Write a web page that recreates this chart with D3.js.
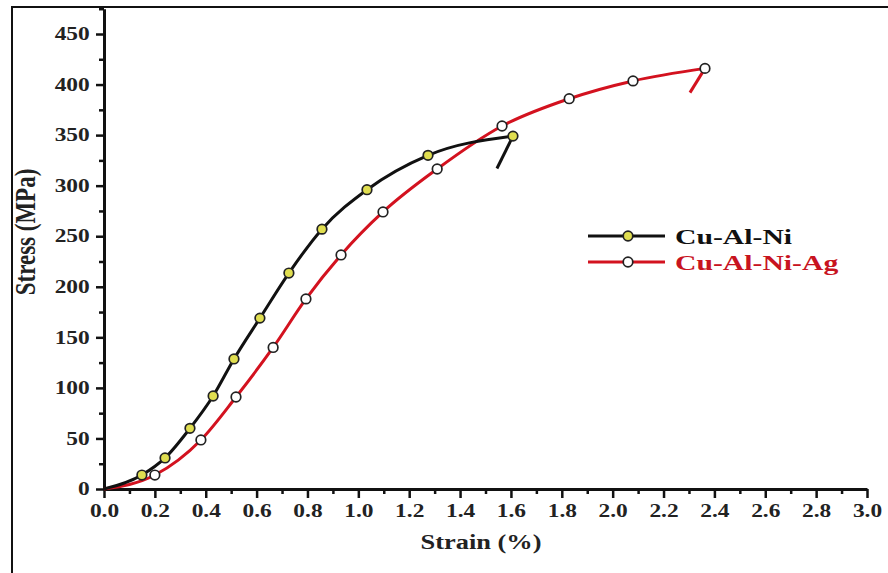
<!DOCTYPE html>
<meta charset="utf-8">
<style>
body { margin: 0; background: #fff; }
text { font-family: 'Liberation Serif', 'Times New Roman', serif; font-weight: bold; }
.axis text { font-size: 18px; fill: #222; }
.axis path, .axis line { stroke: #111; }
</style>
<body>
<svg width="888" height="573"></svg>
<script src="https://d3js.org/d3.v7.min.js"></script>
<script>

// Cu-Al-Ni (black, yellow markers) - first point is the origin (no marker)
var strainCuAlNi = [0, 0.149, 0.24, 0.338, 0.429, 0.511, 0.613, 0.727, 0.857, 1.034, 1.274, 1.608];
var stressCuAlNi = [0, 13.8, 30.7, 60, 92, 128.6, 169, 213.6, 257, 296, 330, 349];
var tailCuAlNi = [[1.608, 349], [1.545, 317]];

// Cu-Al-Ni-Ag (red, white markers)
var strainAg = [0, 0.2, 0.381, 0.519, 0.665, 0.794, 0.932, 1.097, 1.31, 1.565, 1.829, 2.08, 2.363];
var stressAg = [0, 13.8, 48.5, 91, 140, 188, 231.5, 274, 316.5, 359, 386, 403.6, 416];
var tailAg = [[2.363, 416], [2.304, 392]];

var seriesNames = ["Cu-Al-Ni", "Cu-Al-Ni-Ag"];
var yTicks = d3.range(0, 451, 50);
var xTicks = d3.range(0, 3.001, 0.2);

var svg = d3.select("svg");

// frame (top and left edge of the picture)
svg.append("path")
    .attr("d", "M12,573V7H888")
    .attr("fill", "none")
    .attr("stroke", "#111")
    .attr("stroke-width", 2);

var x = d3.scaleLinear().domain([0, 3]).range([104, 867]);
var y = d3.scaleLinear().domain([0, 475]).range([489, 489 - 475 * 455 / 450]);

// minor ticks
svg.append("g")
    .attr("class", "axis")
    .attr("transform", "translate(104,0)")
    .call(d3.axisLeft(y).tickValues(d3.range(25, 476, 50)).tickSize(5).tickFormat(""))
    .call(function(g) { g.select(".domain").remove(); })
    .selectAll("line").attr("stroke-width", 2.5);

svg.append("g")
    .attr("class", "axis")
    .attr("transform", "translate(0,489)")
    .call(d3.axisBottom(x).tickValues(d3.range(0.1, 3, 0.2)).tickSize(5).tickFormat(""))
    .call(function(g) { g.select(".domain").remove(); })
    .selectAll("line").attr("stroke-width", 2.5);

// major axes
var gy = svg.append("g")
    .attr("class", "axis")
    .attr("transform", "translate(104,0)")
    .call(d3.axisLeft(y).tickValues(yTicks).tickSize(8).tickSizeOuter(0).tickPadding(3));
gy.select(".domain").attr("stroke-width", 3);
gy.selectAll("line").attr("stroke-width", 2.5);
gy.selectAll("text").attr("transform", "scale(1.3,1)");

var gx = svg.append("g")
    .attr("class", "axis")
    .attr("transform", "translate(0,489)")
    .call(d3.axisBottom(x).tickValues(xTicks).tickFormat(d3.format(".1f")).tickSize(9).tickSizeOuter(0).tickPadding(6));
gx.select(".domain").attr("stroke-width", 3);
gx.selectAll("line").attr("stroke-width", 2.5);
gx.selectAll("text").attr("transform", "scale(1.3,1)");

// axis titles
svg.append("text")
    .attr("transform", "translate(481,549) scale(1.2,1)")
    .attr("text-anchor", "middle")
    .attr("font-size", 22)
    .attr("fill", "#222")
    .text("Strain (%)");

svg.append("text")
    .attr("transform", "translate(35,232) rotate(-90) scale(1,1.3)")
    .attr("text-anchor", "middle")
    .attr("font-size", 23)
    .attr("fill", "#222")
    .text("Stress (MPa)");

var line = d3.line()
    .x(function(d) { return x(d[0]); })
    .y(function(d) { return y(d[1]); })
    .curve(d3.curveMonotoneX);

var lineStraight = d3.line()
    .x(function(d) { return x(d[0]); })
    .y(function(d) { return y(d[1]); });

var series = [
  { strain: strainCuAlNi, stress: stressCuAlNi, tail: tailCuAlNi, color: "#111", fill: "#e0de50" },
  { strain: strainAg, stress: stressAg, tail: tailAg, color: "#d3121f", fill: "#fff" }
];

// red first so black sits on top where they cross
[series[1], series[0]].forEach(function(s) {
  var pts = s.strain.map(function(v, i) { return [v, s.stress[i]]; });
  svg.append("path")
      .attr("d", line(pts))
      .attr("fill", "none")
      .attr("stroke", s.color)
      .attr("stroke-width", 3);
  svg.append("path")
      .attr("d", lineStraight(s.tail))
      .attr("fill", "none")
      .attr("stroke", s.color)
      .attr("stroke-width", 3);
});

series.forEach(function(s) {
  var pts = s.strain.map(function(v, i) { return [v, s.stress[i]]; }).slice(1);
  svg.selectAll(null)
    .data(pts)
    .enter().append("circle")
      .attr("cx", function(d) { return x(d[0]); })
      .attr("cy", function(d) { return y(d[1]); })
      .attr("r", 4.8)
      .attr("fill", s.fill)
      .attr("stroke", "#222")
      .attr("stroke-width", 1.7);
});

// legend
var legend = svg.append("g").attr("transform", "translate(588,236)");
series.forEach(function(s, i) {
  var g = legend.append("g").attr("transform", "translate(0," + (i * 26) + ")");
  g.append("line")
      .attr("x1", 0).attr("x2", 77)
      .attr("stroke", s.color)
      .attr("stroke-width", 3);
  g.append("circle")
      .attr("cx", 40).attr("r", 4.8)
      .attr("fill", s.fill)
      .attr("stroke", "#222")
      .attr("stroke-width", 1.7);
  g.append("text")
      .attr("transform", "translate(87,8) scale(1.35,1)")
      .attr("font-size", 22)
      .attr("fill", i === 0 ? "#111" : "#c8141f")
      .text(seriesNames[i]);
});

</script>
